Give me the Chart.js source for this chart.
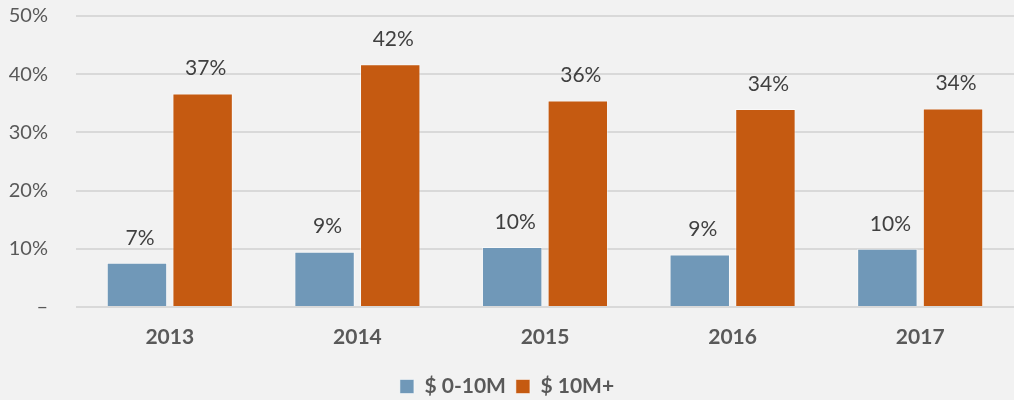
<!DOCTYPE HTML>
<html>
<head>
    <title>Chart</title>
    <meta charset="utf-8" />
    <script src="https://cdn.jsdelivr.net/npm/chart.js@4/dist/chart.umd.min.js"></script>
    <style>
        html, body { margin: 0; padding: 0; background: #f2f2f2; }
        #container { width: 1014px; height: 400px; }
    </style>
</head>
<body>
    <div id="container"><canvas id="chartCanvas"></canvas></div>
    <script>
        const years = ['2013', '2014', '2015', '2016', '2017'];
        const small_values = [7.6, 9.5, 10.3, 9.0, 10.0];
        const large_values = [36.7, 41.7, 35.5, 34.0, 34.1];
        const small_labels = ['7%', '9%', '10%', '9%', '10%'];
        const large_labels = ['37%', '42%', '36%', '34%', '34%'];
        const y_ticks = [0, 10, 20, 30, 40, 50];
        const font_family = 'Lato, "Open Sans", sans-serif';

        // labels above each bar
        const bar_labels = {
            id: 'bar_labels',
            afterDatasetsDraw(chart) {
                const ctx = chart.ctx;
                const texts = [small_labels, large_labels];
                ctx.save();
                ctx.font = '21px ' + font_family;
                ctx.fillStyle = '#404040';
                ctx.textAlign = 'center';
                ctx.textBaseline = 'middle';
                chart.data.datasets.forEach((ds, i) => {
                    chart.getDatasetMeta(i).data.forEach((bar, j) => {
                        ctx.fillText(texts[i][j], bar.x + 3, bar.y - 25);
                    });
                });
                ctx.restore();
            }
        };

        const config = {
            type: 'bar',
            data: {
                labels: years,
                datasets: [
                    {
                        label: '$ 0-10M',
                        data: small_values,
                        backgroundColor: '#7098b8',
                        borderColor: 'rgba(255,255,255,0.5)',
                        borderWidth: 1,
                        barPercentage: 0.92,
                        categoryPercentage: 0.7
                    },
                    {
                        label: '$ 10M+',
                        data: large_values,
                        backgroundColor: '#c55a11',
                        borderColor: 'rgba(255,255,255,0.5)',
                        borderWidth: 1,
                        barPercentage: 0.92,
                        categoryPercentage: 0.7
                    }
                ]
            },
            options: {
                responsive: true,
                maintainAspectRatio: false,
                animation: false,
                layout: { padding: { top: 16, left: 0, right: 0, bottom: -7 } },
                plugins: {
                    tooltip: { enabled: false },
                    legend: {
                        position: 'bottom',
                        labels: {
                            boxWidth: 14,
                            boxHeight: 14,
                            padding: 10,
                            color: '#595959',
                            font: { family: font_family, size: 21, weight: 'bold' }
                        }
                    }
                },
                scales: {
                    x: {
                        afterFit(scale) { scale.height = 59; scale.paddingLeft = 0; scale.paddingRight = 0; },
                        grid: { display: false },
                        border: { display: false },
                        ticks: {
                            color: '#595959',
                            padding: 10,
                            font: { family: font_family, size: 21, weight: 'bold' }
                        }
                    },
                    y: {
                        min: 0,
                        max: 50,
                        afterFit(scale) { scale.width = 76; scale.paddingTop = 0; scale.paddingBottom = 0; },
                        afterBuildTicks(scale) { scale.ticks = y_ticks.map(v => ({ value: v })); },
                        grid: { color: '#d9d9d9', lineWidth: 2, drawTicks: false },
                        border: { display: false },
                        ticks: {
                            color: '#595959',
                            padding: 28,
                            font: { family: font_family, size: 20 },
                            callback: v => v === 0 ? '–' : v + '%'
                        }
                    }
                }
            },
            plugins: [bar_labels]
        };

        new Chart(document.getElementById('chartCanvas'), config);
    </script>
</body>
</html>
